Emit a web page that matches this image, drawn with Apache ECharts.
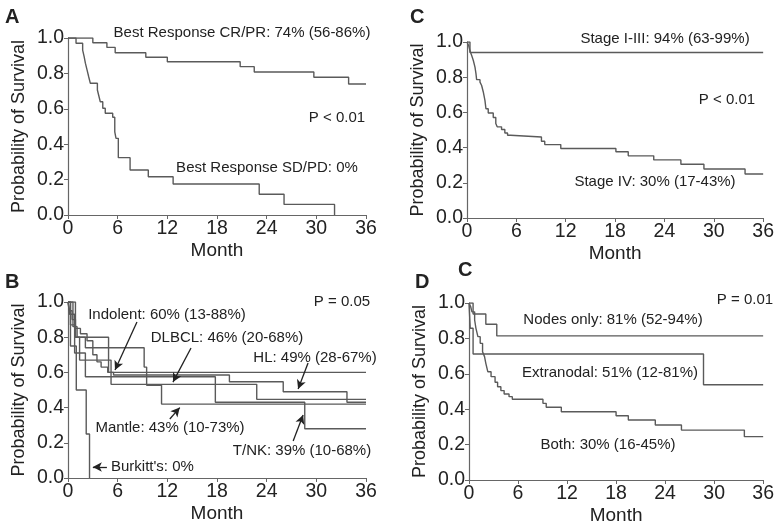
<!DOCTYPE html>
<html>
<head>
<meta charset="utf-8">
<script src="https://cdn.jsdelivr.net/npm/echarts@6/dist/echarts.min.js"></script>
<style>
  html, body { margin: 0; padding: 0; background: #fff; }
  #chart { width: 777px; height: 527px; }
</style>
</head>
<body>
<div id="chart"></div>
<script>
// ticks
const monthTicks = [0, 6, 12, 18, 24, 30, 36];
const survTicks = [0, 0.2, 0.4, 0.6, 0.8, 1.0];

// A: best response  [month, survival]
const crpr = [[0,1],[3.0,0.973],[4.7,0.947],[5.7,0.917],[9.4,0.891],[12.0,0.866],[20.8,0.838],[22.5,0.808],[29.7,0.778],[33.9,0.74],[36,0.74]];
const sdpd = [[0,1],[0.97,0.97],[1.77,0.932],[1.95,0.895],[2.1,0.858],[2.3,0.82],[2.5,0.781],[2.7,0.744],[3.55,0.706],[3.75,0.668],[3.9,0.64],[4.2,0.603],[4.5,0.575],[5.4,0.552],[5.65,0.47],[5.8,0.433],[6.08,0.324],[7.5,0.254],[9.7,0.216],[12.7,0.175],[23.1,0.117],[26.1,0.06],[32.2,0]];

// C: stage
const stage13 = [[0,1],[0.36,0.94],[36,0.94]];
const stage4 = [[0,1],[0.2,0.98],[0.36,0.95],[0.57,0.923],[0.77,0.895],[0.97,0.857],[1.09,0.82],[1.17,0.786],[1.58,0.772],[1.78,0.753],[1.98,0.716],[2.18,0.668],[2.3,0.621],[2.58,0.597],[3.19,0.571],[3.5,0.537],[3.67,0.518],[4.2,0.503],[4.6,0.483],[4.93,0.47],[5.3,0.46],[9.05,0.436],[9.45,0.417],[11.4,0.395],[18.1,0.376],[19.6,0.353],[22.7,0.33],[26.0,0.305],[28.8,0.278],[33.8,0.25],[36,0.25]];

// B: histology
const indolent = [[0,1],[0.9,0.8],[4.9,0.6],[36,0.6]];
const dlbcl = [[0,1],[0.3,0.87],[0.9,0.8],[1.4,0.67],[5.2,0.532],[22.8,0.447],[36,0.447]];
const hl = [[0,1],[0.2,0.95],[0.5,0.9],[0.9,0.85],[1.5,0.82],[2.3,0.78],[3.0,0.7],[3.5,0.66],[4.0,0.63],[4.8,0.6],[5.5,0.585],[19.5,0.547],[26.0,0.49],[33.7,0.43],[36,0.43]];
const mantle = [[0,1],[0.6,0.86],[1.1,0.8],[2.1,0.74],[9.2,0.63],[9.5,0.527],[11.3,0.42],[36,0.42]];
const tnk = [[0,1],[0.2,0.93],[0.8,0.71],[2.1,0.575],[17.8,0.43],[28.6,0.28],[36,0.28]];
const burkitt = [[0,1],[0.3,0.75],[1.0,0.5],[2.2,0.25],[2.6,0]];

// D: site
const nodes = [[0,1],[0.5,0.938],[2.06,0.88],[3.4,0.814],[36,0.814]];
const extranodal = [[0,1],[0.15,0.857],[0.5,0.712],[28.7,0.538],[36,0.538]];
const both = [[0,1],[0.2,0.98],[0.36,0.95],[0.69,0.904],[0.85,0.857],[1.09,0.81],[1.37,0.772],[1.66,0.725],[1.9,0.697],[2.06,0.659],[2.3,0.612],[2.7,0.584],[3.19,0.552],[3.5,0.527],[3.9,0.505],[4.3,0.486],[4.9,0.471],[5.3,0.456],[9.05,0.433],[9.45,0.411],[11.3,0.386],[18.0,0.363],[19.5,0.339],[22.8,0.311],[26.0,0.282],[33.7,0.245],[36,0.245]];

// arrows in panel B, [from, to] in month/survival
const arrowsB = [
  [[8.33, 0.886], [5.68, 0.614]],
  [[14.86, 0.739], [12.68, 0.545]],
  [[29.0, 0.653], [27.8, 0.506]],
  [[12.3, 0.335], [13.5, 0.40]],
  [[27.2, 0.21], [28.4, 0.358]],
  [[4.7, 0.0625], [3.0, 0.0625]]
];

const font = "Liberation Sans, Arial, sans-serif";
const ink = "#222";
const lineCol = "#5a5a5a";

const grids = [
  { left: 68, top: 38, width: 298, height: 177 },   // A
  { left: 467, top: 42, width: 297, height: 176 },  // C
  { left: 68, top: 302, width: 298, height: 176 },  // B
  { left: 469, top: 303, width: 297, height: 177 }  // D
];

function xAxisFor(i) {
  return {
    gridIndex: i, type: "value", min: 0, max: 36, interval: 6,
    name: "Month", nameLocation: "middle", nameGap: 26,
    nameTextStyle: { fontFamily: font, fontSize: 19, color: ink },
    axisLine: { lineStyle: { color: "#666", width: 1.2 } },
    axisTick: { length: 4, lineStyle: { color: "#666" } },
    axisLabel: { fontFamily: font, fontSize: 19.5, color: ink, margin: 4,
      customValues: monthTicks },
    splitLine: { show: false }
  };
}
function yAxisFor(i) {
  return {
    gridIndex: i, type: "value", min: 0, max: 1, interval: 0.2,
    name: "Probability of Survival", nameLocation: "middle", nameGap: 40,
    nameTextStyle: { fontFamily: font, fontSize: 18, color: ink },
    axisLine: { show: true, lineStyle: { color: "#666", width: 1.2 } },
    axisTick: { show: true, length: 4, lineStyle: { color: "#666" } },
    axisLabel: { fontFamily: font, fontSize: 19.5, color: ink, margin: 4,
      formatter: (v) => v.toFixed(1) },
    splitLine: { show: false }
  };
}
function km(data, i, extra) {
  return Object.assign({
    type: "line", step: "end", xAxisIndex: i, yAxisIndex: i,
    data: data, symbol: "none", silent: true,
    lineStyle: { color: lineCol, width: 1.4 }
  }, extra || {});
}
function txt(x, y, s, opt) {
  return {
    type: "text", x: x, y: y, silent: true,
    style: Object.assign({ text: s, fill: ink, font: "15px " + font,
      align: "center", verticalAlign: "middle" }, opt || {})
  };
}
const bold = { font: "bold 20px " + font, align: "left" };

const chart = echarts.init(document.getElementById("chart"));
chart.setOption({
  animation: false,
  backgroundColor: "#fff",
  grid: grids,
  xAxis: [0, 1, 2, 3].map(xAxisFor),
  yAxis: [0, 1, 2, 3].map(yAxisFor),
  series: [
    km(crpr, 0), km(sdpd, 0),
    km(stage13, 1), km(stage4, 1),
    km(indolent, 2), km(dlbcl, 2), km(hl, 2), km(mantle, 2), km(tnk, 2),
    km(burkitt, 2, {
      markLine: {
        silent: true, symbol: ["none", "arrow"], symbolSize: [7, 9],
        label: { show: false },
        lineStyle: { color: "#222", width: 1.3, type: "solid" },
        data: arrowsB.map((a) => [{ coord: a[0] }, { coord: a[1] }])
      }
    }),
    km(nodes, 3), km(extranodal, 3), km(both, 3)
  ],
  graphic: [
    txt(5, 17, "A", bold),
    txt(242, 33, "Best Response CR/PR: 74% (56-86%)"),
    txt(337, 118, "P < 0.01"),
    txt(267, 168, "Best Response SD/PD: 0%"),

    txt(410, 17, "C", bold),
    txt(665, 39, "Stage I-III: 94% (63-99%)"),
    txt(727, 100, "P < 0.01"),
    txt(655, 182, "Stage IV: 30% (17-43%)"),

    txt(5, 282, "B", bold),
    txt(342, 302, "P = 0.05"),
    txt(167, 315, "Indolent: 60% (13-88%)"),
    txt(227, 338, "DLBCL: 46% (20-68%)"),
    txt(315, 358, "HL: 49% (28-67%)"),
    txt(170, 428, "Mantle: 43% (10-73%)"),
    txt(302, 451, "T/NK: 39% (10-68%)"),
    txt(111, 467, "Burkitt's: 0%", { align: "left" }),

    txt(415, 282, "D", bold),
    txt(458, 270, "C", bold),
    txt(745, 300, "P = 0.01"),
    txt(613, 320, "Nodes only: 81% (52-94%)"),
    txt(610, 373, "Extranodal: 51% (12-81%)"),
    txt(608, 445, "Both: 30% (16-45%)")
  ]
});
</script>
</body>
</html>
